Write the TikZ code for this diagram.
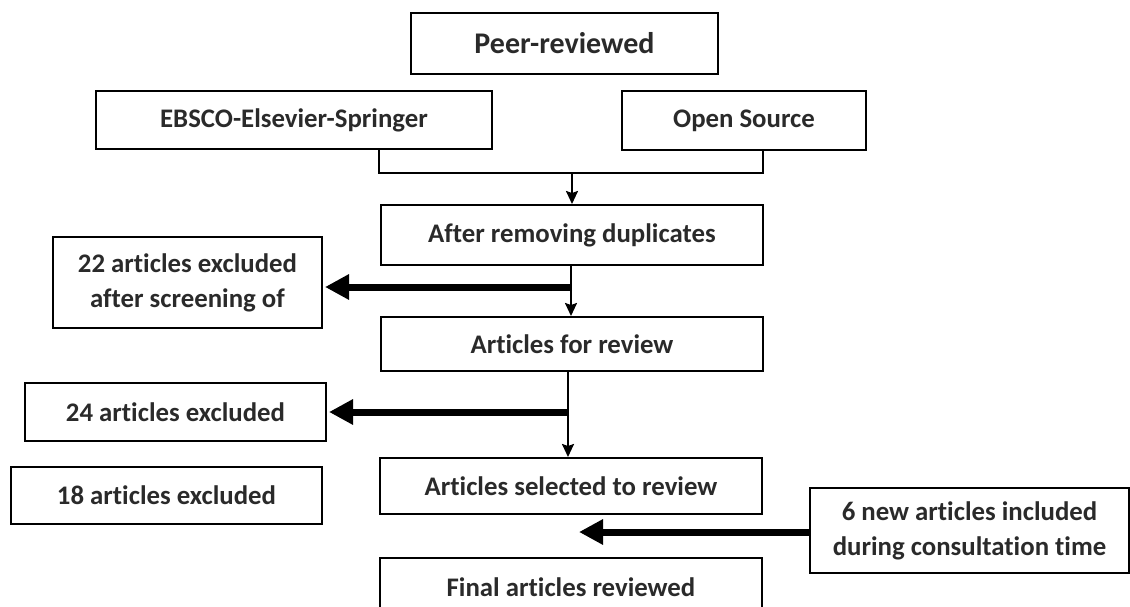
\documentclass[tikz,border=0pt]{standalone}
\usepackage{fontspec}
\setmainfont{Carlito}[Ligatures={NoCommon,NoContextual},RawFeature={-liga;-clig;-calt;-dlig}]
\usetikzlibrary{arrows.meta}
\definecolor{txt}{HTML}{2A2A2A}
\begin{document}
\begin{tikzpicture}[x=1pt,y=-1pt,
  box/.style={draw=black,line width=2pt,inner sep=0pt,align=center,
    text=txt,font=\fontsize{26.8}{35}\selectfont\bfseries},
  thin/.style={draw=black,line width=2pt},
  thinarrow/.style={thin,-{Stealth[length=13pt,width=12pt,inset=2pt]}},
  thick/.style={draw=black,line width=7pt,-{Triangle[length=24pt,width=24pt]}}]
\useasboundingbox (0,0) rectangle (1130,607);
\node[box,minimum width=307pt,minimum height=61pt,font=\fontsize{30}{36}\selectfont\bfseries] (peer) at (564.5,43.5) {Peer-reviewed};
\node[box,minimum width=396pt,minimum height=58pt] (ebsco) at (294,120) {EBSCO-Elsevier-Springer};
\node[box,minimum width=244pt,minimum height=59pt] (open) at (744,120.5) {Open Source};
\node[box,minimum width=382pt,minimum height=60pt] (after) at (572,235) {After removing duplicates};
\node[box,minimum width=382pt,minimum height=54pt] (afr) at (572,344) {Articles for review};
\node[box,minimum width=382pt,minimum height=56pt] (sel) at (571,486) {Articles selected to review};
\node[box,minimum width=382pt,minimum height=58pt] (final) at (571,587) {Final articles reviewed};
\node[box,minimum width=269pt,minimum height=91pt] (ex22) at (187.5,282.5) {22 articles excluded\\after screening of};
\node[box,minimum width=301pt,minimum height=58pt] (ex24) at (175.5,412) {24 articles excluded};
\node[box,minimum width=311pt,minimum height=57pt] (ex18) at (166.5,495.5) {18 articles excluded};
\node[box,minimum width=319pt,minimum height=85pt] (new6) at (969.5,530.5) {6 new articles included\\during consultation time};
% merge connector
\coordinate (jl) at (379,173);
\coordinate (jr) at (763,173);
\coordinate (jm) at (572,173);
\draw[thin] (ebsco.south -| jl) -- (jl) -- (jr) -- (open.south -| jr);
\draw[thinarrow] (jm) -- (after.north -| jm);
% after -> articles for review
\coordinate (j1) at (571,287);
\draw[thinarrow] (after.south -| j1) -- (afr.north -| j1);
\draw[thick,shorten >=2pt] ([xshift=1pt]j1) -- (ex22.east |- j1);
% articles for review -> selected
\coordinate (j2) at (568,412);
\draw[thinarrow] (afr.south -| j2) -- (sel.north -| j2);
\draw[thick,shorten >=2pt] ([xshift=1pt]j2) -- (ex24.east |- j2);
% new articles
\coordinate (j3) at (579,532);
\draw[thick] (new6.west |- j3) -- (j3);
\end{tikzpicture}
\end{document}
